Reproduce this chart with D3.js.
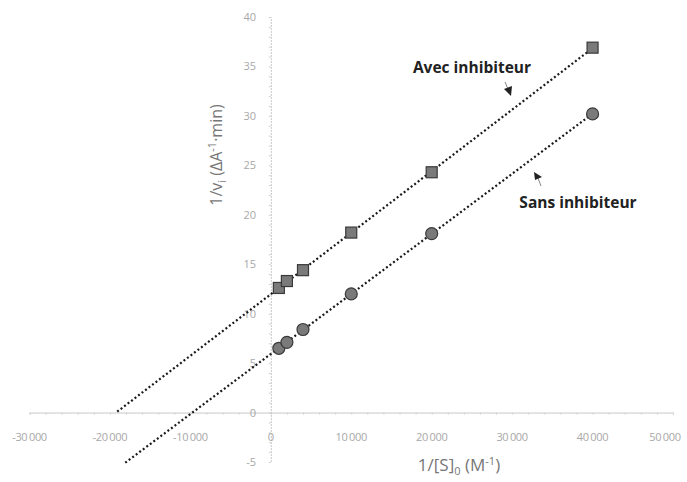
<!DOCTYPE html>
<html><head><meta charset="utf-8">
<script src="https://cdn.jsdelivr.net/npm/d3@7"></script>
<style>body{margin:0;background:#fff}svg{display:block}</style>
</head><body><svg id="c" width="687" height="482"></svg>
<script>
const invS = [1000, 2000, 4000, 10000, 20000, 40000];
const avec = [12.6, 13.3, 14.4, 18.2, 24.3, 36.9];
const sans = [6.5, 7.1, 8.4, 12.0, 18.1, 30.2];
const trendStart = [-19100, -18100];
const xTicks = [-30000, -20000, -10000, 0, 10000, 20000, 30000, 40000, 50000];
const yTicks = [-5, 0, 5, 10, 15, 20, 25, 30, 35, 40];
const seriesNames = ["Avec inhibiteur", "Sans inhibiteur"];

const svg = d3.select("#c");
const x = d3.scaleLinear().domain([-30000, 50000]).range([29.5, 673]);
const y = d3.scaleLinear().domain([-5, 40]).range([462, 17]);
const fmt = v => v === 0 ? "0" : (v < 0 ? "-" : "") + d3.format(",")(Math.abs(v)).replace(/,/g, "\u2009");

// axes
const gx = svg.append("g").attr("transform", `translate(0,${y(0)})`)
  .call(d3.axisBottom(x).tickValues(d3.range(-30000, 50001, 2000)).tickSize(2).tickFormat(""));
gx.select(".domain").attr("stroke", "#c8c8c8");
gx.selectAll(".tick line").attr("stroke", "#d0d0d0");
const gy = svg.append("g").attr("transform", `translate(${x(0)},0)`)
  .call(d3.axisLeft(y).tickValues(d3.range(-5, 40.01, 1)).tickSize(2).tickFormat(""));
gy.select(".domain").attr("stroke", "#c8c8c8").attr("stroke-dasharray", "2,1");
gy.selectAll(".tick line").attr("stroke", "#d0d0d0");

svg.append("g").selectAll("text").data(xTicks).join("text")
  .attr("x", d => Math.min(x(d), 665)).attr("y", 441).attr("text-anchor", "middle")
  .attr("font-family", "Open Sans, sans-serif").attr("font-size", 11).attr("fill", "#a8a8a8")
  .attr("letter-spacing", -0.3)
  .text(fmt);
svg.append("g").selectAll("text").data(yTicks).join("text")
  .attr("x", 256).attr("y", d => y(d) + 4).attr("text-anchor", "end")
  .attr("font-family", "Open Sans, sans-serif").attr("font-size", 11).attr("fill", "#a8a8a8")
  .text(d => d);

// axis titles
svg.append("text").attr("transform", "translate(222,155) rotate(-90)").attr("text-anchor", "middle")
  .attr("font-family", "Open Sans, sans-serif").attr("font-size", 16).attr("fill", "#777")
  .html('1/v<tspan dy="4" font-size="11">i</tspan><tspan dy="-4"> (ΔA</tspan><tspan dy="-6" font-size="11">-1</tspan><tspan dy="6">·min)</tspan>');
svg.append("text").attr("x", 459).attr("y", 471).attr("text-anchor", "middle")
  .attr("font-family", "Open Sans, sans-serif").attr("font-size", 17).attr("fill", "#777")
  .html('1/[S]<tspan dy="4" font-size="11">0</tspan><tspan dy="-4"> (M</tspan><tspan dy="-6" font-size="11">-1</tspan><tspan dy="6">)</tspan>');

// trendlines (least squares)
function fit(xs, ys) {
  const mx = d3.mean(xs), my = d3.mean(ys);
  const b = d3.sum(xs, (v, i) => (v - mx) * (ys[i] - my)) / d3.sum(xs, v => (v - mx) ** 2);
  return [b, my - b * mx];
}
[avec, sans].forEach((ys, k) => {
  const [b, a] = fit(invS, ys);
  const x0 = trendStart[k], x1 = d3.max(invS);
  svg.append("line").attr("x1", x(x0)).attr("y1", y(a + b * x0)).attr("x2", x(x1)).attr("y2", y(a + b * x1))
    .attr("stroke", "#1a1a1a").attr("stroke-width", 2.2).attr("stroke-dasharray", "2,2.4");
});

// markers
svg.append("g").selectAll("rect").data(invS).join("rect")
  .attr("x", (d) => x(d) - 5.5).attr("y", (d, i) => y(avec[i]) - 5.5).attr("width", 11).attr("height", 11)
  .attr("fill", "#7a7a7a").attr("stroke", "#3a3a3a").attr("stroke-width", 1.2);
svg.append("g").selectAll("circle").data(invS).join("circle")
  .attr("cx", d => x(d)).attr("cy", (d, i) => y(sans[i])).attr("r", 6)
  .attr("fill", "#7a7a7a").attr("stroke", "#3a3a3a").attr("stroke-width", 1.2);

// annotations
svg.append("text").attr("x", 472).attr("y", 73).attr("text-anchor", "middle")
  .attr("font-family", "Open Sans, sans-serif").attr("font-weight", "bold").attr("font-size", 15.5).attr("fill", "#222")
  .text(seriesNames[0]);
svg.append("text").attr("x", 578).attr("y", 208).attr("text-anchor", "middle")
  .attr("font-family", "Open Sans, sans-serif").attr("font-weight", "bold").attr("font-size", 15.5).attr("fill", "#222")
  .text(seriesNames[1]);
svg.append("line").attr("x1", 505).attr("y1", 82).attr("x2", 508).attr("y2", 89).attr("stroke", "#888").attr("stroke-width", 1);
svg.append("path").attr("d", "M504,89 L512,86 L511,96 Z").attr("fill", "#222");
svg.append("line").attr("x1", 541).attr("y1", 186).attr("x2", 538).attr("y2", 178).attr("stroke", "#888").attr("stroke-width", 1);
svg.append("path").attr("d", "M534,172 L542,177 L535,180 Z").attr("fill", "#222");
</script></body></html>
